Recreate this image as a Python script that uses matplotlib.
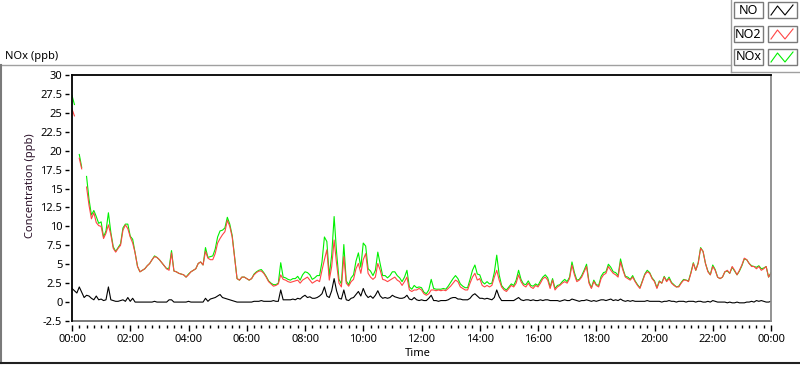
import numpy as np
import matplotlib
matplotlib.use("Agg")
import matplotlib.pyplot as plt
from matplotlib.patches import Rectangle
from matplotlib.lines import Line2D
from matplotlib.ticker import MultipleLocator

plt.rcParams['font.family'] = ['Noto Sans', 'DejaVu Sans']

nan = float('nan')

# 5-minute readings over one day (ppb), one row per hour
no2 = [
    25.5, 24.6, nan, 19.0, 17.6, nan, 15.2, 12.8, 11.0, 11.8, 10.5, 10.1,
    10.0, 8.4, 9.1, 10.2, 8.9, 7.1, 6.6, 7.1, 7.5, 9.5, 10.2, 9.7,
    8.6, 7.8, 6.5, 4.7, 4.0, 4.2, 4.4, 4.8, 5.1, 5.6, 6.0, 5.9,
    5.6, 5.2, 4.8, 4.4, 4.2, 6.5, 4.1, 4.0, 3.8, 3.7, 3.6, 3.3,
    3.6, 4.0, 4.2, 4.4, 5.1, 5.3, 4.9, 6.7, 5.8, 5.6, 5.6, 6.4,
    7.8, 8.4, 8.9, 9.3, 10.8, 10.0, 8.6, 5.8, 3.1, 2.9, 3.3, 3.3,
    3.1, 2.9, 3.1, 3.6, 3.9, 4.1, 4.1, 3.8, 3.3, 2.7, 2.4, 2.1,
    2.2, 2.4, 3.6, 3.0, 2.9, 2.7, 2.6, 2.7, 2.8, 2.9, 2.5, 2.9,
    3.1, 3.3, 2.9, 2.5, 2.7, 2.9, 2.7, 4.2, 5.6, 6.9, 2.9, 4.7,
    8.2, 5.1, 2.5, 2.0, 6.0, 2.5, 2.1, 2.7, 3.0, 4.4, 5.1, 3.8,
    5.6, 6.4, 3.8, 3.3, 3.0, 3.3, 5.1, 4.2, 3.0, 2.9, 2.7, 2.9,
    3.1, 3.3, 2.9, 2.7, 2.2, 2.7, 3.3, 1.6, 1.4, 1.6, 1.6, 1.8,
    1.6, 1.1, 0.9, 1.1, 1.6, 1.6, 1.5, 1.6, 1.5, 1.6, 1.5, 1.8,
    2.1, 2.5, 2.9, 2.7, 2.0, 1.8, 1.6, 1.6, 2.5, 3.3, 3.8, 2.9,
    3.1, 2.2, 2.0, 2.2, 2.0, 2.2, 3.3, 4.2, 2.9, 2.0, 1.6, 1.4,
    1.8, 2.2, 2.0, 2.5, 3.6, 2.7, 2.2, 2.0, 2.5, 2.0, 1.8, 2.2,
    2.0, 2.5, 3.1, 3.3, 2.9, 1.8, 2.9, 1.6, 2.0, 2.2, 2.5, 2.7,
    2.5, 3.1, 4.9, 3.6, 2.7, 2.9, 3.3, 4.0, 4.7, 2.5, 1.8, 2.7,
    2.2, 2.0, 3.1, 3.6, 3.8, 4.7, 4.2, 3.8, 3.6, 3.3, 5.3, 4.2,
    3.3, 3.1, 2.9, 3.3, 2.7, 2.2, 1.8, 2.7, 3.6, 4.0, 3.8, 3.1,
    2.7, 1.8, 2.7, 2.5, 3.3, 2.7, 3.1, 2.5, 2.2, 2.0, 2.0, 2.5,
    2.9, 2.9, 2.7, 3.8, 5.1, 4.2, 5.1, 7.1, 6.7, 5.1, 4.0, 3.6,
    4.7, 4.2, 3.3, 3.1, 3.3, 4.0, 4.2, 3.8, 4.7, 4.2, 3.6, 4.2,
    4.9, 5.8, 5.6, 5.1, 4.7, 4.7, 4.4, 4.7, 4.2, 4.4, 4.7, 3.3,
    3.8,
]

no = [
    1.8, 1.5, 1.2, 2.0, 1.3, 0.6, 0.9, 0.8, 0.5, 0.3, 0.8, 0.3,
    0.4, 0.2, 0.3, 2.0, 0.3, 0.2, 0.1, 0.1, 0.2, 0.3, 0.1, 0.6,
    0.1, 0.5, 0.0, 0.0, 0.0, 0.0, 0.0, 0.0, 0.0, 0.0, 0.1, 0.0,
    0.0, 0.0, 0.0, 0.0, 0.3, 0.3, 0.0, 0.0, 0.0, 0.0, 0.0, 0.0,
    0.1, 0.0, 0.0, 0.0, 0.0, 0.0, 0.0, 0.5, 0.1, 0.4, 0.5, 0.6,
    0.8, 1.0, 0.6, 0.5, 0.4, 0.3, 0.2, 0.1, 0.0, 0.0, 0.0, 0.0,
    0.0, 0.0, 0.0, 0.1, 0.1, 0.1, 0.2, 0.1, 0.1, 0.1, 0.1, 0.2,
    0.1, 0.1, 1.6, 0.3, 0.3, 0.3, 0.3, 0.4, 0.3, 0.5, 0.4, 0.7,
    0.9, 0.6, 0.7, 0.5, 0.5, 0.6, 0.8, 1.1, 2.0, 0.8, 0.6, 1.5,
    3.1, 1.5, 0.5, 0.4, 1.6, 0.3, 0.2, 0.5, 0.6, 1.0, 1.4, 0.8,
    1.8, 1.0, 0.6, 0.8, 0.5, 0.9, 1.5, 0.8, 0.5, 0.6, 0.5, 0.6,
    0.9, 0.7, 0.6, 0.5, 0.5, 0.6, 0.9, 0.4, 0.3, 0.6, 0.3, 0.2,
    0.3, 0.2, 0.2, 0.5, 0.9, 0.2, 0.2, 0.1, 0.2, 0.2, 0.2, 0.3,
    0.5, 0.6, 0.6, 0.4, 0.4, 0.3, 0.3, 0.3, 0.5, 0.9, 1.1, 0.8,
    0.5, 0.5, 0.4, 0.5, 0.4, 0.3, 0.6, 1.6, 0.7, 0.2, 0.2, 0.2,
    0.2, 0.2, 0.2, 0.4, 0.6, 0.3, 0.2, 0.3, 0.3, 0.2, 0.3, 0.2,
    0.2, 0.3, 0.2, 0.3, 0.3, 0.2, 0.2, 0.2, 0.2, 0.1, 0.2, 0.3,
    0.2, 0.2, 0.4, 0.3, 0.2, 0.1, 0.2, 0.2, 0.3, 0.2, 0.1, 0.2,
    0.1, 0.2, 0.3, 0.3, 0.2, 0.3, 0.4, 0.2, 0.3, 0.2, 0.4, 0.2,
    0.1, 0.2, 0.1, 0.2, 0.1, 0.1, 0.1, 0.1, 0.1, 0.2, 0.1, 0.1,
    0.1, 0.1, 0.1, 0.0, 0.1, 0.1, 0.2, 0.1, 0.1, 0.0, 0.1, 0.1,
    0.1, 0.0, 0.1, 0.1, 0.1, 0.0, 0.1, 0.1, 0.0, 0.0, 0.1, 0.0,
    0.2, 0.1, 0.0, 0.0, 0.0, 0.0, -0.1, 0.0, -0.1, -0.1, 0.0, -0.1,
    -0.1, -0.1, 0.0, 0.0, 0.1, 0.0, 0.2, 0.1, 0.2, 0.1, 0.0, 0.0,
    0.1,
]

nox = [
    27.3, 26.1, nan, 19.5, 17.8, nan, 16.6, 13.6, 11.5, 12.1, 11.3, 10.4,
    10.6, 8.6, 9.4, 11.8, 9.2, 7.3, 6.7, 7.2, 7.7, 9.8, 10.3, 10.3,
    8.7, 8.3, 6.5, 4.7, 4.0, 4.2, 4.4, 4.8, 5.1, 5.6, 6.1, 5.9,
    5.6, 5.2, 4.8, 4.4, 4.5, 6.8, 4.1, 4.0, 3.8, 3.7, 3.6, 3.3,
    3.7, 4.0, 4.2, 4.4, 5.1, 5.3, 4.9, 7.2, 5.9, 6.0, 6.1, 7.0,
    8.6, 9.4, 9.5, 9.8, 11.2, 10.3, 8.8, 5.9, 3.1, 2.9, 3.3, 3.3,
    3.1, 2.9, 3.1, 3.7, 4.0, 4.2, 4.3, 3.9, 3.4, 2.8, 2.5, 2.3,
    2.3, 2.5, 5.2, 3.3, 3.2, 3.0, 2.9, 3.1, 3.1, 3.4, 2.9, 3.6,
    4.0, 3.9, 3.6, 3.0, 3.2, 3.5, 3.5, 5.3, 8.6, 8.0, 3.5, 6.2,
    11.3, 6.6, 3.0, 2.4, 7.6, 2.8, 2.3, 3.2, 3.6, 5.4, 6.5, 4.6,
    7.8, 7.4, 4.4, 4.1, 3.5, 4.2, 6.6, 5.0, 3.5, 3.5, 3.2, 3.5,
    4.0, 4.0, 3.5, 3.2, 2.7, 3.3, 4.2, 2.0, 1.7, 2.2, 1.9, 2.0,
    1.9, 1.3, 1.1, 1.6, 3.0, 1.8, 1.7, 1.7, 1.7, 1.8, 1.7, 2.1,
    2.6, 3.1, 3.5, 3.1, 2.4, 2.1, 1.9, 1.9, 3.0, 4.2, 4.9, 3.7,
    3.6, 2.7, 2.4, 2.7, 2.4, 2.5, 3.9, 6.2, 3.6, 2.2, 1.8, 1.6,
    2.0, 2.4, 2.2, 2.9, 4.2, 3.0, 2.4, 2.3, 2.8, 2.2, 2.1, 2.4,
    2.2, 2.8, 3.3, 3.6, 3.2, 2.0, 3.1, 1.8, 2.2, 2.3, 2.7, 3.0,
    2.7, 3.3, 5.3, 3.9, 2.9, 3.0, 3.5, 4.2, 5.0, 2.7, 1.9, 2.9,
    2.3, 2.2, 3.4, 3.9, 4.0, 5.0, 4.6, 4.0, 3.9, 3.5, 5.7, 4.4,
    3.4, 3.3, 3.0, 3.5, 2.8, 2.3, 1.9, 2.8, 3.7, 4.2, 3.9, 3.2,
    2.8, 1.9, 2.8, 2.5, 3.4, 2.8, 3.3, 2.6, 2.3, 2.0, 2.1, 2.6,
    3.0, 2.9, 2.8, 3.9, 5.2, 4.2, 5.2, 7.2, 6.7, 5.1, 4.1, 3.6,
    4.9, 4.3, 3.3, 3.1, 3.3, 4.0, 4.1, 3.8, 4.6, 4.1, 3.6, 4.1,
    4.8, 5.7, 5.6, 5.1, 4.8, 4.7, 4.6, 4.8, 4.4, 4.5, 4.7, 3.3,
    3.9,
]

step_min = 5
hours = np.arange(len(no2)) * step_min / 60.0

xtick_pos = list(range(0, 25, 2))
xtick_labels = ['00:00', '02:00', '04:00', '06:00', '08:00', '10:00', '12:00',
                '14:00', '16:00', '18:00', '20:00', '22:00', '00:00']
ytick_pos = [-2.5, 0, 2.5, 5, 7.5, 10, 12.5, 15, 17.5, 20, 22.5, 25, 27.5, 30]
ytick_labels = ['-2.5', '0', '2.5', '5', '7.5', '10', '12.5', '15', '17.5',
                '20', '22.5', '25', '27.5', '30']

series_names = ['NO', 'NO2', 'NOx']
colors = {'NO': 'black', 'NO2': '#ff4545', 'NOx': '#00f000'}

W, H = 800, 365


def fx(x):
    return x / W


def fy(y):
    return 1 - y / H


fig = plt.figure(figsize=(8, 3.65), dpi=100)
ax = fig.add_axes([fx(72), fy(321), 699 / W, 246 / H])

ax.plot(hours, nox, color=colors['NOx'], lw=0.8)
ax.plot(hours, no2, color=colors['NO2'], lw=0.8)
ax.plot(hours, no, color=colors['NO'], lw=0.8)

ax.set_xlim(0, 24)
ax.set_ylim(-2.5, 30)
ax.set_xticks(xtick_pos)
ax.set_xticklabels(xtick_labels)
ax.xaxis.set_minor_locator(MultipleLocator(0.25))
ax.set_yticks(ytick_pos)
ax.set_yticklabels(ytick_labels)

ax.spines['bottom'].set_position(('outward', 3))
ax.spines['left'].set_position(('outward', 2))
ax.spines['bottom'].set_visible(False)
ax.spines['left'].set_visible(False)
ax.spines['top'].set_color('black')
ax.spines['top'].set_linewidth(1.3)
ax.spines['right'].set_color('#8a8a8a')
ax.spines['right'].set_linewidth(1.3)
# frame edges that sit under the offset tick axes
ax.plot([0, 1], [0, 0], transform=ax.transAxes, color='#6e6e6e', lw=1.3, clip_on=False)
ax.plot([0, 0], [0, 1], transform=ax.transAxes, color='black', lw=1.3, clip_on=False)

ax.tick_params(axis='x', which='major', direction='out', length=4, width=1,
               pad=2, labelsize=8, colors='black')
ax.tick_params(axis='x', which='minor', direction='out', length=2.5, width=1)
ax.tick_params(axis='y', which='major', direction='out', length=3, width=1,
               pad=2, labelsize=8)

fig.text(fx(30), fy(186), 'Concentration (ppb)', rotation=90, ha='center',
         va='center', fontsize=8, color='#2a1028')
fig.text(fx(418), fy(354), 'Time', ha='center', va='center', fontsize=8)
fig.text(fx(5), fy(57), 'NOx (ppb)', ha='left', va='center', fontsize=8)

# panel outline
fig.add_artist(Line2D([0, fx(731)], [fy(65), fy(65)], color='#a0a0a0', lw=1))
fig.add_artist(Line2D([fx(1), fx(1)], [fy(65), fy(363)], color='#7a7a7a', lw=1.5))
fig.add_artist(Line2D([0, 1], [fy(363), fy(363)], color='#202020', lw=1.5))
fig.add_artist(Line2D([fx(731), fx(731)], [1, fy(72)], color='#a0a0a0', lw=1))
fig.add_artist(Line2D([fx(731), 1], [fy(72), fy(72)], color='#a0a0a0', lw=1))

# legend
row_tops = [2, 26, 49]
for name, top in zip(series_names, row_tops):
    fig.add_artist(Rectangle((fx(734), fy(top + 16)), 29 / W, 16 / H,
                             facecolor='white', edgecolor='#7a7a7a', lw=1))
    fig.add_artist(Rectangle((fx(768), fy(top + 16)), 29 / W, 16 / H,
                             facecolor='white', edgecolor='#7a7a7a', lw=1))
    fig.text(fx(748.5), fy(top + 8), name, ha='center', va='center', fontsize=9)
    zx = [771, 777.5, 785, 793]
    zy = [top + 13, top + 4, top + 13, top + 3]
    fig.add_artist(Line2D([fx(v) for v in zx], [fy(v) for v in zy],
                          color=colors[name], lw=0.8))

fig.savefig('out.png', dpi=100)
